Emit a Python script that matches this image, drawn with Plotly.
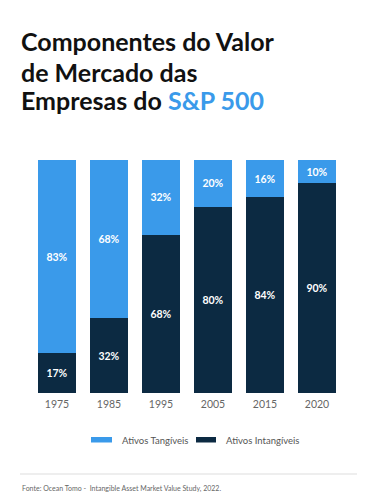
import plotly.graph_objects as go

years = ["1975", "1985", "1995", "2005", "2015", "2020"]
tangiveis = [83, 68, 32, 20, 16, 10]
intangiveis = [17, 32, 68, 80, 84, 90]
title_lines = ["Componentes do Valor", "de Mercado das",
               "Empresas do <span style='color:#3a9aea'>S&P 500</span>"]
legend_names = ["Ativos Tangíveis", "Ativos Intangíveis"]
source = "Fonte: Ocean Tomo -  Intangible Asset Market Value Study, 2022."

LIGHT = "#3a9aea"
DARK = "#0c2a42"
FONT = "Lato, 'Noto Sans', sans-serif"

# page body has an 8px default margin; work in page pixels and convert
O = 8
W, H = 377 - O, 500 - O
# plot area in page pixels
L, R, T, B = 31, 343, 160, 393

def px(x):
    return (x - L) / (R - L)

def py(y):
    return (B - y) / (B - T)

fig = go.Figure()
fig.add_trace(go.Bar(
    x=years, y=intangiveis, name=legend_names[1],
    marker=dict(color=DARK, line=dict(width=0)),
    text=[f"<b>{v}%</b>" for v in intangiveis], textposition="inside",
    insidetextanchor="middle",
    textfont=dict(color="white", size=10.5, family=FONT),
    showlegend=False,
))
fig.add_trace(go.Bar(
    x=years, y=tangiveis, name=legend_names[0],
    marker=dict(color=LIGHT, line=dict(width=0)),
    text=[f"<b>{v}%</b>" for v in tangiveis], textposition="inside",
    insidetextanchor="middle",
    textfont=dict(color="white", size=10.5, family=FONT),
    showlegend=False,
))

annotations = []
for line, ycen in zip(title_lines, [41, 71.5, 100]):
    annotations.append(dict(
        text=f"<b>{line}</b>", xref="paper", yref="paper",
        x=px(19), y=py(ycen), xanchor="left", yanchor="middle",
        showarrow=False, font=dict(size=25, color="#111111", family=FONT),
    ))
shapes = []
for (x0, x1, tx), col, name in zip([(91, 112, 120), (196, 216, 224)],
                                   [LIGHT, DARK], legend_names):
    shapes.append(dict(type="rect", xref="paper", yref="paper",
                       x0=px(x0), x1=px(x1), y0=py(437), y1=py(442.5),
                       fillcolor=col, line=dict(width=0)))
    annotations.append(dict(
        text=name, xref="paper", yref="paper", x=px(tx), y=py(440),
        xanchor="left", yanchor="middle", showarrow=False,
        font=dict(size=9.5, color="#555555", family=FONT),
    ))
shapes.append(dict(type="line", xref="paper", yref="paper",
                   x0=px(20), x1=px(357), y0=py(474), y1=py(474),
                   line=dict(color="#dddddd", width=1)))
annotations.append(dict(
    text=source, xref="paper", yref="paper", x=px(20), y=py(488),
    xanchor="left", yanchor="middle", showarrow=False,
    font=dict(size=7, color="#666666", family=FONT),
))

fig.update_layout(
    barmode="stack",
    bargap=0.28,
    width=W, height=H,
    margin=dict(l=L - O, r=377 - R, t=T - O, b=500 - B, autoexpand=False),
    paper_bgcolor="white", plot_bgcolor="white",
    font=dict(family=FONT),
    showlegend=False,
    uniformtext=dict(mode="show", minsize=9),
    xaxis=dict(
        showgrid=False, showline=False, zeroline=False, ticks="",
        tickfont=dict(size=10.5, color="#666666", family=FONT),
        ticklabelstandoff=3,
        automargin=False,
    ),
    yaxis=dict(visible=False, range=[0, 100], automargin=False),
    shapes=shapes,
    annotations=annotations,
)

fig.write_html("out.html")
